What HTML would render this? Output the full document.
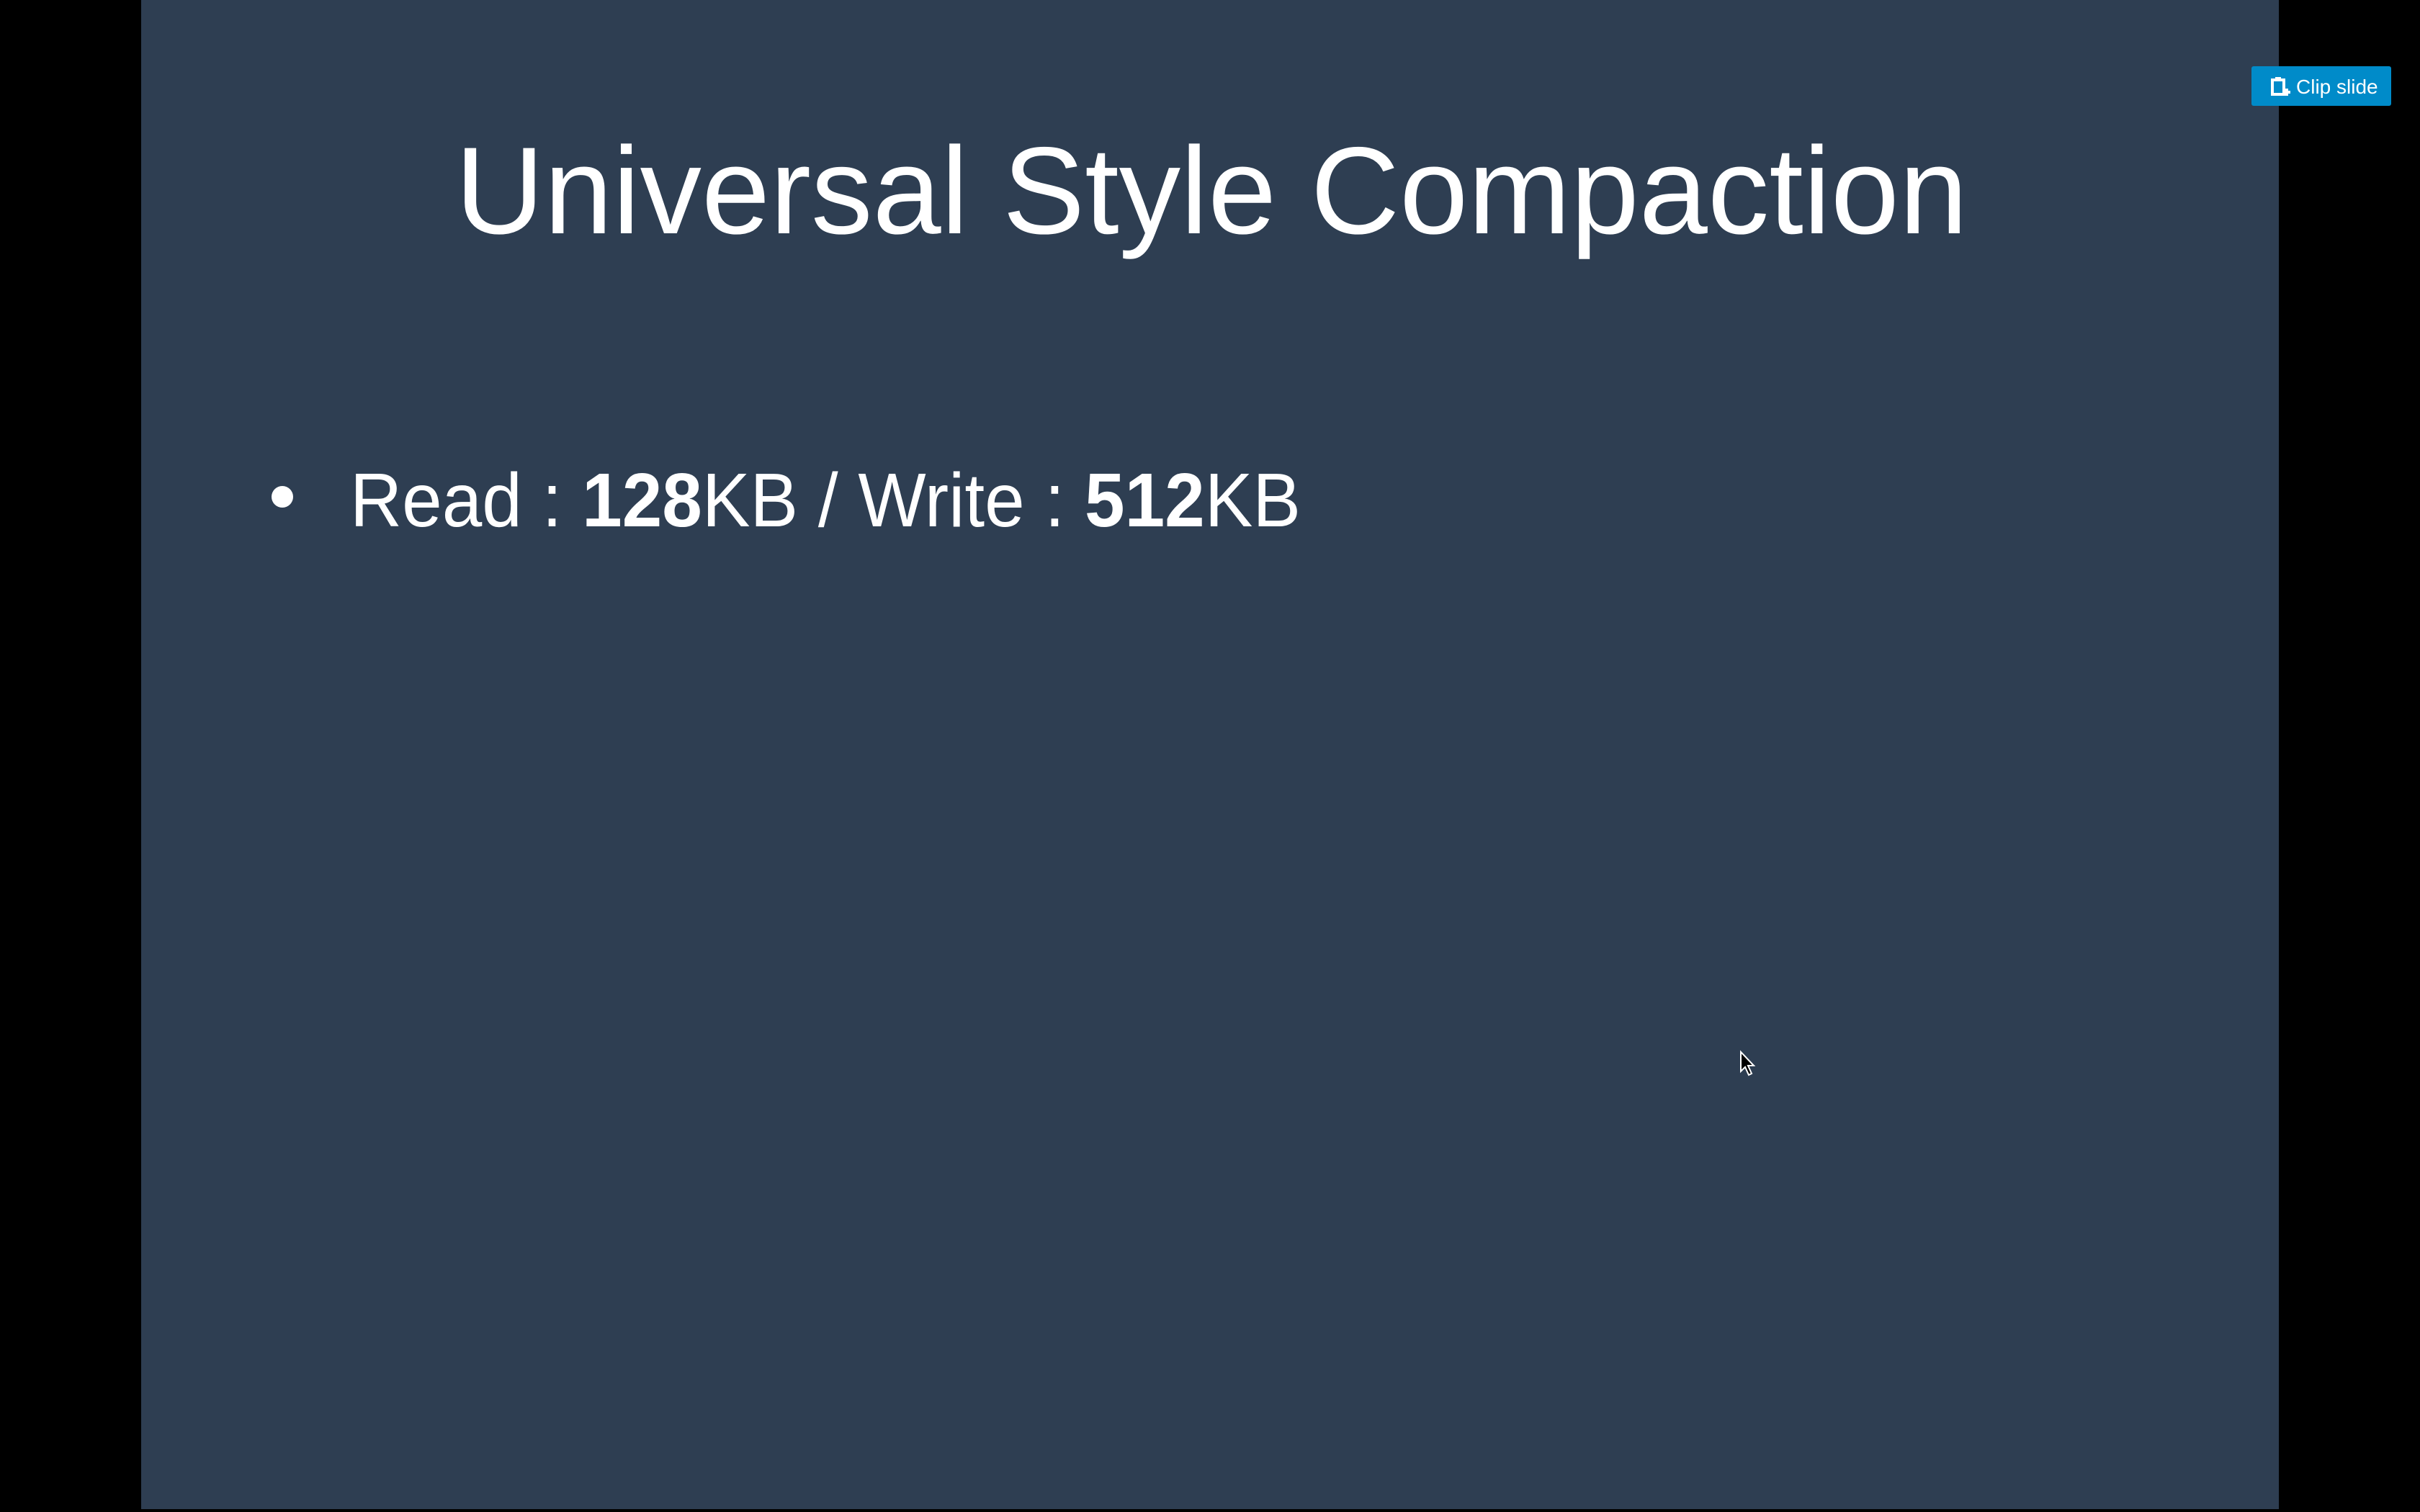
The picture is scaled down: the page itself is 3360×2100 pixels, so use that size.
<!DOCTYPE html>
<html><head><meta charset="utf-8"><style>
html,body{margin:0;padding:0;background:#000;width:3360px;height:2100px;overflow:hidden}
svg{display:block}
</style></head><body>
<svg width="3360" height="2100" viewBox="0 0 3360 2100" xmlns="http://www.w3.org/2000/svg">
<rect x="0" y="0" width="3360" height="2100" fill="#000"/>
<rect x="196" y="0" width="2968" height="2096" fill="#2e3e52"/>
<text x="632" y="324" textLength="2100" lengthAdjust="spacingAndGlyphs" font-family="Liberation Sans, sans-serif" font-size="172" fill="#ffffff">Universal Style Compaction</text>
<circle cx="392" cy="690" r="15" fill="#ffffff"/>
<text x="486" y="731" textLength="1320" lengthAdjust="spacingAndGlyphs" font-family="Liberation Sans, sans-serif" font-size="106" fill="#ffffff">Read : <tspan font-weight="bold">128</tspan>KB / Write : <tspan font-weight="bold">512</tspan>KB</text>
<g>
<rect x="3126" y="92" width="194" height="55" rx="3" fill="#008bc9"/>
<rect x="3155" y="111" width="16" height="20" fill="none" stroke="#fff" stroke-width="4"/>
<rect x="3159" y="107" width="8" height="6" fill="#fff"/>
<path d="M3170 128h10M3175 123v10" stroke="#fff" stroke-width="4"/>
<text x="3188" y="130" font-family="Liberation Sans, sans-serif" font-size="28" fill="#fff">Clip slide</text>
</g>
<path d="M2417 1461 L2417 1488 L2423 1482 L2428 1493 L2432 1491 L2427 1480 L2435 1480 Z" fill="#000" stroke="#fff" stroke-width="2"/>
</svg>
</body></html>
